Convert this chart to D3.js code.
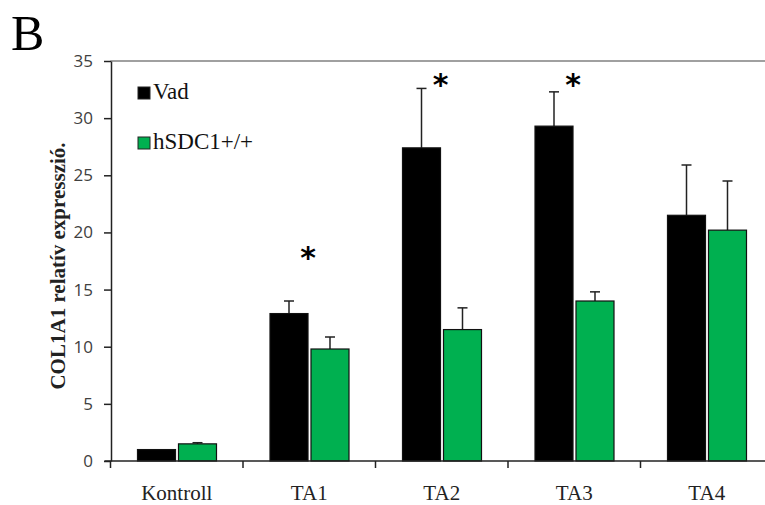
<!DOCTYPE html>
<html>
<head>
<meta charset="utf-8">
<script src="https://cdn.jsdelivr.net/npm/d3@7"></script>
<style>
  body { margin: 0; background: #fff; }
  svg { display: block; }
</style>
</head>
<body>
<div id="chart"></div>
<script>
// adatok
var categories = ["Kontroll", "TA1", "TA2", "TA3", "TA4"];
var series = ["Vad", "hSDC1+/+"];
var vad = [1.0, 12.9, 27.4, 29.3, 21.5];
var vadErr = [0, 1.1, 5.2, 3.0, 4.4];
var hsdc = [1.5, 9.8, 11.5, 14.0, 20.2];
var hsdcErr = [0.1, 1.05, 1.9, 0.8, 4.3];
var stars = ["TA1", "TA2", "TA3"];
var starValues = [18.8, 33.9, 33.9];
var yTicks = [0, 5, 10, 15, 20, 25, 30, 35];

var width = 765, height = 505;
var colors = { "Vad": "#000000", "hSDC1+/+": "#00b050" };
var serif = "'Liberation Serif', 'Times New Roman', serif";

var svg = d3.select("#chart")
    .append("svg")
    .attr("width", width)
    .attr("height", height);

// skálák
var x = d3.scaleBand()
    .domain(categories)
    .range([110.5, 773]);

var xs = d3.scaleBand()
    .domain(series)
    .range([27, 106])
    .paddingInner(0.073);

var y = d3.scaleLinear()
    .domain([0, 35])
    .range([461, 61]);

// felső keret
svg.append("line")
    .attr("x1", x.range()[0])
    .attr("x2", x.range()[1])
    .attr("y1", y(35))
    .attr("y2", y(35))
    .style("stroke", "#a0a0a0")
    .style("stroke-width", 2);

var rows = categories.map(function(c, i) {
    return [
        { cat: c, s: "Vad", v: vad[i], e: vadErr[i] },
        { cat: c, s: "hSDC1+/+", v: hsdc[i], e: hsdcErr[i] }
    ];
});
var flat = d3.merge(rows);

// hibavonalak
var err = svg.selectAll(".err")
    .data(flat.filter(function(d) { return d.e > 0; }))
    .enter()
    .append("g")
    .attr("class", "err")
    .style("stroke", "#222")
    .style("stroke-width", 1.5);

err.append("line")
    .attr("x1", function(d) { return x(d.cat) + xs(d.s) + xs.bandwidth() / 2; })
    .attr("x2", function(d) { return x(d.cat) + xs(d.s) + xs.bandwidth() / 2; })
    .attr("y1", function(d) { return y(d.v); })
    .attr("y2", function(d) { return y(d.v + d.e); });

err.append("line")
    .attr("x1", function(d) { return x(d.cat) + xs(d.s) + xs.bandwidth() / 2 - 5; })
    .attr("x2", function(d) { return x(d.cat) + xs(d.s) + xs.bandwidth() / 2 + 5; })
    .attr("y1", function(d) { return y(d.v + d.e); })
    .attr("y2", function(d) { return y(d.v + d.e); });

// oszlopok
svg.selectAll(".bar")
    .data(flat)
    .enter()
    .append("rect")
    .attr("class", "bar")
    .attr("x", function(d) { return x(d.cat) + xs(d.s); })
    .attr("y", function(d) { return y(d.v); })
    .attr("width", xs.bandwidth())
    .attr("height", function(d) { return y(0) - y(d.v); })
    .style("fill", function(d) { return colors[d.s]; })
    .style("stroke", "#111")
    .style("stroke-width", 1.2);

// y tengely
var yAxis = d3.axisLeft(y)
    .tickValues(yTicks)
    .tickSize(7)
    .tickSizeOuter(0)
    .tickPadding(11);

var gy = svg.append("g")
    .attr("transform", "translate(111,0)")
    .call(yAxis);
gy.select(".domain").style("stroke", "#222").style("stroke-width", 1.5);
gy.selectAll(".tick line").style("stroke", "#222").style("stroke-width", 1.5);
gy.selectAll("text")
    .style("font-family", "'Open Sans', sans-serif")
    .style("font-size", "17px")
    .style("fill", "#404040");

// x tengely
svg.append("line")
    .attr("x1", x.range()[0] - 6)
    .attr("x2", x.range()[1])
    .attr("y1", y(0))
    .attr("y2", y(0))
    .style("stroke", "#222")
    .style("stroke-width", 1.5);

svg.selectAll(".xtick")
    .data(categories.concat(["end"]))
    .enter()
    .append("line")
    .attr("x1", function(d, i) { return i < categories.length ? x(d) : x.range()[1]; })
    .attr("x2", function(d, i) { return i < categories.length ? x(d) : x.range()[1]; })
    .attr("y1", y(0))
    .attr("y2", y(0) + 7)
    .style("stroke", "#222")
    .style("stroke-width", 1.5);

svg.selectAll(".xlabel")
    .data(categories)
    .enter()
    .append("text")
    .attr("x", function(d) { return x(d) + x.bandwidth() / 2; })
    .attr("y", 500)
    .attr("text-anchor", "middle")
    .style("font-family", serif)
    .style("font-size", "21px")
    .style("fill", "#222")
    .text(function(d) { return d; });

// csillagok
svg.selectAll(".star")
    .data(stars)
    .enter()
    .append("text")
    .attr("x", function(d) { return x(d) + xs("Vad") + xs.bandwidth(); })
    .attr("y", function(d, i) { return y(starValues[i]); })
    .attr("text-anchor", "middle")
    .attr("dy", "0.72em")
    .style("font-family", "'DejaVu Sans', sans-serif")
    .style("font-size", "30px")
    .style("font-weight", "bold")
    .style("fill", "#000")
    .text("*");

// y tengely felirat
svg.append("text")
    .attr("transform", "rotate(-90)")
    .attr("x", -266)
    .attr("y", 65)
    .attr("text-anchor", "middle")
    .style("font-family", serif)
    .style("font-size", "21px")
    .style("font-weight", "bold")
    .style("fill", "#222")
    .text("COL1A1 relatív expresszió.");

// jelmagyarázat
var legend = svg.selectAll(".legend")
    .data(series)
    .enter()
    .append("g")
    .attr("transform", function(d, i) { return "translate(138," + (87 + i * 50) + ")"; });

legend.append("rect")
    .attr("width", 12)
    .attr("height", 12)
    .style("fill", function(d) { return colors[d]; })
    .style("stroke", "#222")
    .style("stroke-width", 1);

legend.append("text")
    .attr("x", 15)
    .attr("y", 12)
    .style("font-family", serif)
    .style("font-size", "23px")
    .style("fill", "#111")
    .text(function(d) { return d; });

// panel betű
svg.append("text")
    .attr("x", 11)
    .attr("y", 50)
    .style("font-family", serif)
    .style("font-size", "50px")
    .style("fill", "#000")
    .text("B");
</script>
</body>
</html>
